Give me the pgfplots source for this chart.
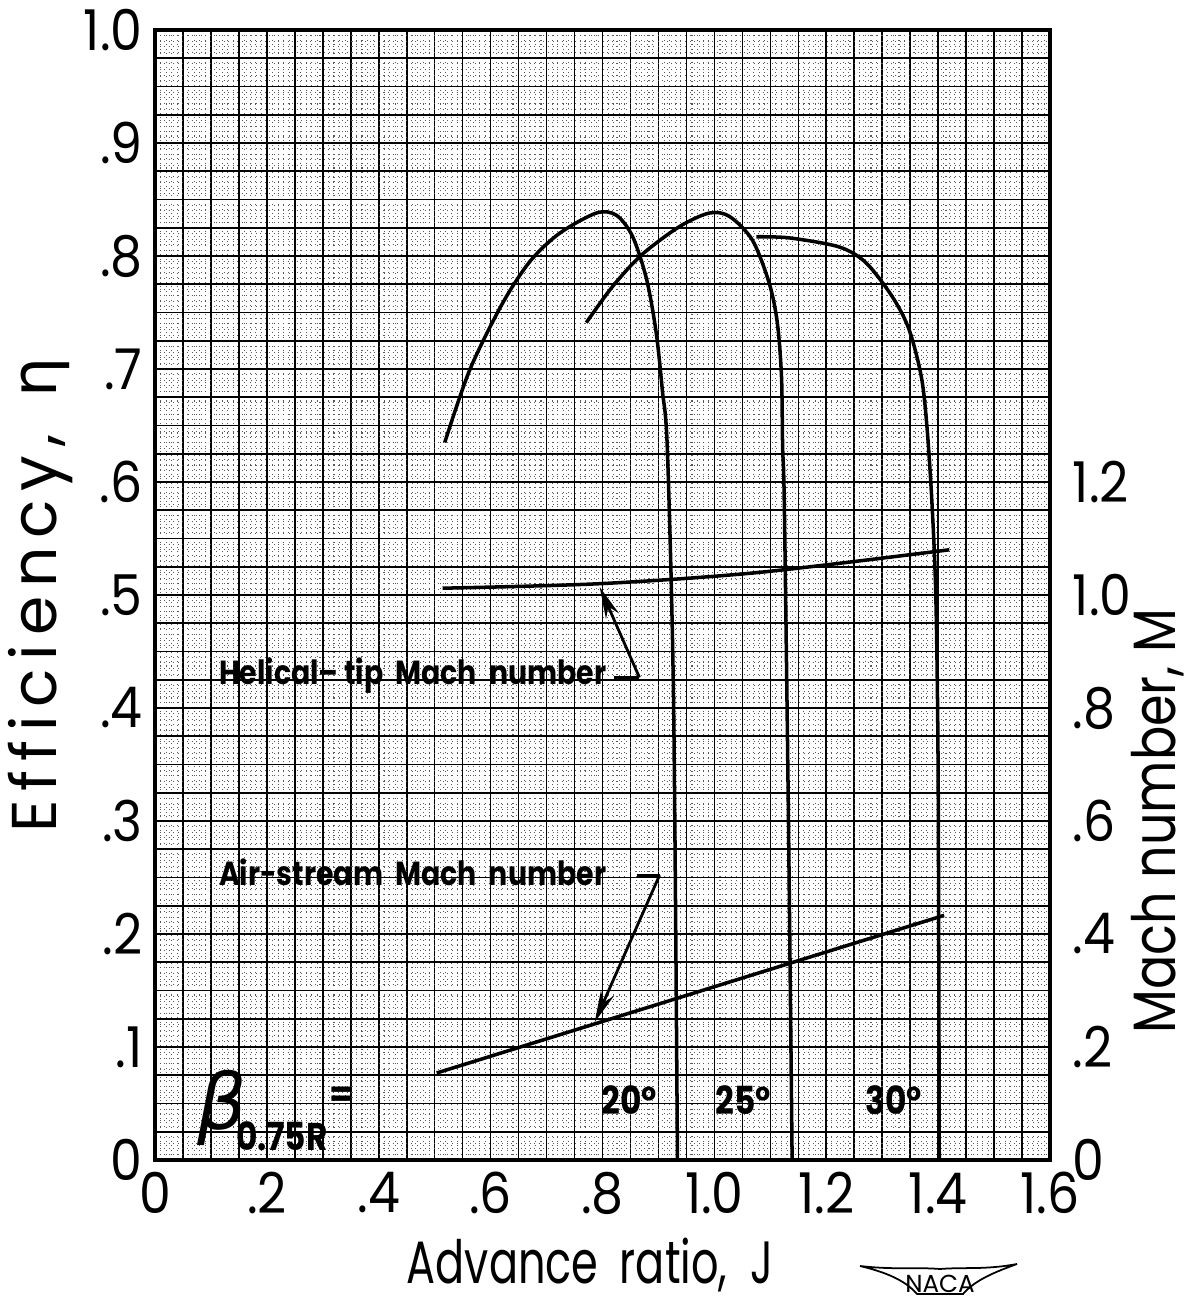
\documentclass[border=0pt]{standalone}
\usepackage{fontspec}
\setmainfont{Poppins}
\newfontfamily\greek{DejaVu Sans}
\newfontfamily\tickfont{Poppins}[FakeStretch=0.9]
\newfontfamily\xlabfont{Poppins}[FakeStretch=0.72]
\newfontfamily\ylabfont{Poppins}[LetterSpace=14]
\newfontfamily\machfont{Poppins}[FakeStretch=0.85]
\newfontfamily\annfont{Poppins}[FakeStretch=0.85]
\usepackage{pgfplots}
\pgfplotsset{compat=1.18}
\usetikzlibrary{arrows.meta}
\begin{document}
\begin{tikzpicture}
\path[use as bounding box] (-1.55cm,-1.43cm) rectangle (10.37cm,11.60cm);
% graph paper grid
\begin{axis}[at={(0,0)},anchor=south west,width=8.95cm,height=11.3cm,scale only axis,
  xmin=0,xmax=1.6,ymin=0,ymax=1.0,
  xtick distance=0.05, ytick distance=0.025, minor x tick num=4, minor y tick num=4,
  xticklabels={}, yticklabels={}, major tick length=0pt, minor tick length=0pt,
  grid=both,
  major grid style={black,line width=0.45pt},
  minor grid style={black!65,line width=0.3pt,densely dotted},
  axis line style={line width=1pt}]
\end{axis}
% efficiency axis
\begin{axis}[at={(0,0)},anchor=south west,width=8.95cm,height=11.3cm,scale only axis,
  xmin=0,xmax=1.6,ymin=0,ymax=1.0,
  axis y line*=left, axis x line*=bottom, axis line style={line width=1pt,-},
  xtick={0,0.2,0.4,0.6,0.8,1.0,1.2,1.4,1.6},
  xticklabels={0,.2,.4,.6,.8,1.0,1.2,1.4,1.6},
  ytick={0,0.1,0.2,0.3,0.4,0.5,0.6,0.7,0.8,0.9,1.0},
  yticklabels={0,.1,.2,.3,.4,.5,.6,.7,.8,.9,1.0},
  major tick length=0pt,
  ticklabel style={font=\tickfont\fontsize{16}{18}\selectfont},
  xlabel={Advance\ \,ratio,\ \ J},
  ylabel={Efficiency,\ \,{\greek η}},
  xlabel style={font=\xlabfont\fontsize{17}{20}\selectfont,at={(axis description cs:0.486,-0.093)},anchor=center},
  ylabel style={font=\ylabfont\fontsize{18}{20}\selectfont,at={(axis description cs:-0.128,0.5)},anchor=center,inner sep=0pt},
  clip=false]
% beta = 20 deg
\addplot[black,line width=1pt,smooth] coordinates {
(0.518,0.635) (0.5625,0.699) (0.620,0.757) (0.670,0.795) (0.723,0.820)
(0.789,0.838) (0.825,0.836) (0.854,0.817) (0.879,0.779) (0.896,0.732)
(0.907,0.681) (0.916,0.628) (0.927,0.407) (0.934,0.0)};
% beta = 25 deg
\addplot[black,line width=1pt,smooth] coordinates {
(0.771,0.741) (0.818,0.773) (0.870,0.801) (0.9375,0.826) (0.991,0.838)
(1.027,0.835) (1.068,0.814) (1.098,0.776) (1.1125,0.741) (1.120,0.693)
(1.122,0.631) (1.125,0.581) (1.132,0.319) (1.139,0.0)};
% beta = 30 deg
\addplot[black,line width=1pt,smooth] coordinates {
(1.075,0.817) (1.134,0.816) (1.223,0.808) (1.271,0.794) (1.318,0.764)
(1.348,0.735) (1.370,0.693) (1.380,0.649) (1.389,0.581) (1.396,0.496)
(1.400,0.342) (1.402,0.0)};
% annotations
\node[anchor=west,font=\annfont\fontsize{9.5}{11}\selectfont\bfseries,inner sep=1pt] at (axis cs:0.107,0.429) {Helical–\,tip\ \ Mach\ \ number};
\node[anchor=west,font=\annfont\fontsize{9.5}{11}\selectfont\bfseries,inner sep=1pt] at (axis cs:0.107,0.255) {Air-stream\ \ Mach\ \ number};
\draw[line width=0.8pt] (axis cs:0.821,0.427) -- (axis cs:0.866,0.427);
\draw[line width=0.8pt,-{Stealth[length=9pt,width=4pt]}] (axis cs:0.866,0.427) -- (axis cs:0.795,0.507);
\draw[line width=0.8pt] (axis cs:0.861,0.252) -- (axis cs:0.902,0.252);
\draw[line width=0.8pt,-{Stealth[length=9pt,width=4pt]}] (axis cs:0.902,0.252) -- (axis cs:0.786,0.122);
\node[font=\annfont\fontsize{11}{12}\selectfont\bfseries,inner sep=1pt] at (axis cs:0.848,0.053) {20°};
\node[font=\annfont\fontsize{11}{12}\selectfont\bfseries,inner sep=1pt] at (axis cs:1.052,0.053) {25°};
\node[font=\annfont\fontsize{11}{12}\selectfont\bfseries,inner sep=1pt] at (axis cs:1.321,0.053) {30°};
\node[font=\fontsize{22}{24}\selectfont\greek\itshape] at (axis cs:0.12,0.046) {β};
\node[font=\annfont\fontsize{11}{12}\selectfont\bfseries,inner sep=1pt] at (axis cs:0.227,0.021) {0.75R};
\node[font=\fontsize{10}{11}\selectfont\bfseries] at (axis cs:0.334,0.056) {=};
\end{axis}
% Mach number axis
\begin{axis}[at={(0,0)},anchor=south west,width=8.95cm,height=11.3cm,scale only axis,
  xmin=0,xmax=1.6,ymin=0,ymax=2.0,
  axis y line*=right, axis x line=none, axis line style={line width=1pt,-},
  ytick={0,0.2,0.4,0.6,0.8,1.0,1.2},
  yticklabels={0,.2,.4,.6,.8,1.0,1.2},
  major tick length=0pt,
  yticklabel style={font=\tickfont\fontsize{16}{18}\selectfont,xshift=3pt},
  ylabel={Mach\ number,\ M},
  ylabel style={font=\machfont\fontsize{17}{20}\selectfont,at={(axis description cs:1.12,0.3)},anchor=center,inner sep=0pt}]
\addplot[black,line width=1pt,smooth] coordinates {
(0.514,1.012) (0.795,1.020) (1.080,1.040) (1.420,1.080)};
\addplot[black,line width=1pt] coordinates {
(0.5036,0.154) (1.4107,0.433)};
\end{axis}
% NACA emblem
\draw[line width=0.5pt] (7.05,-1.06) .. controls (7.4,-1.10) and (7.6,-1.07) .. (7.85,-1.09)
  .. controls (8.1,-1.07) and (8.3,-1.10) .. (8.62,-1.04)
  .. controls (8.4,-1.12) and (8.2,-1.20) .. (8.08,-1.34)
  -- (7.62,-1.34) .. controls (7.5,-1.20) and (7.3,-1.12) .. cycle;
\node[font=\fontsize{7}{8}\selectfont] at (7.85,-1.24) {NACA};
\end{tikzpicture}
\end{document}
